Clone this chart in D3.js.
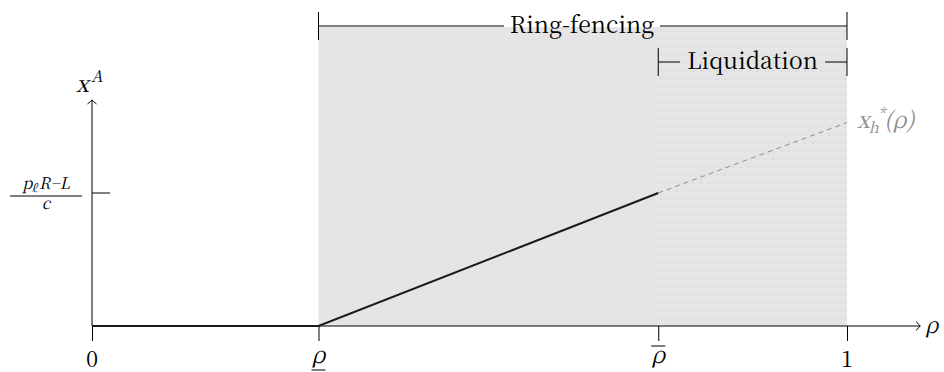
<!DOCTYPE html>
<html>
<head>
<meta charset="utf-8">
<script src="https://cdn.jsdelivr.net/npm/d3@7"></script>
<style>
    body { margin: 0; background: white; }
</style>
</head>
<body>
<div id="chart-area"></div>
<script>
var width = 944;
var height = 372;

// key points on the rho axis
var tickValues = [0, 0.3, 0.75, 1];
var tickNames = ["0", "rhoLow", "rhoHigh", "1"];
// x^A as a function of rho
var solidRho = [0, 0.3, 0.75];
var solidX = [0, 0, 1];
var dashedRho = [0.75, 1];
var dashedX = [1, 1.53];
var yTick = 1;
// shaded regions
var ringFencing = [0.3, 1];
var liquidation = [0.75, 1];
var axisMaxRho = 1.097;
var axisMaxX = 1.7;

var textFont = "'Noto Serif CJK SC', 'Liberation Serif', serif";

var x = d3.scaleLinear()
    .domain([0, 1])
    .range([92, 847]);

var y = d3.scaleLinear()
    .domain([0, 1])
    .range([326, 193]);

var svg = d3.select("#chart-area").append("svg")
    .attr("width", width)
    .attr("height", height)
    .attr("font-family", textFont);

// no italic serif face is installed, so slant upright glyphs by hand
function mathText(px, py, size, anchor) {
    return svg.append("g")
        .attr("transform", "translate(" + px + "," + py + ") skewX(-13)")
        .append("text")
        .attr("x", 0)
        .attr("y", 0)
        .attr("font-size", size)
        .attr("text-anchor", anchor || "start");
}

var defs = svg.append("defs");

var pattern = defs.append("pattern")
    .attr("id", "dots")
    .attr("patternUnits", "userSpaceOnUse")
    .attr("x", x(liquidation[0]))
    .attr("y", 27)
    .attr("width", 8)
    .attr("height", 8);
pattern.append("rect")
    .attr("width", 8)
    .attr("height", 8)
    .attr("fill", "#e5e5e5");
pattern.append("circle")
    .attr("cx", 3)
    .attr("cy", 4)
    .attr("r", 0.8)
    .attr("fill", "#cdcdcd");

var topY = 27;

// shading
svg.append("rect")
    .attr("x", x(ringFencing[0]))
    .attr("y", topY)
    .attr("width", x(ringFencing[1]) - x(ringFencing[0]))
    .attr("height", y(0) - topY)
    .attr("fill", "#e5e5e5");

svg.append("rect")
    .attr("x", x(liquidation[0]))
    .attr("y", topY)
    .attr("width", x(liquidation[1]) - x(liquidation[0]))
    .attr("height", y(0) - topY)
    .attr("fill", "url(#dots)");

// arrow marker
defs.append("marker")
    .attr("id", "arrow")
    .attr("viewBox", "-6 -6 12 12")
    .attr("refX", 0)
    .attr("refY", 0)
    .attr("markerWidth", 12)
    .attr("markerHeight", 12)
    .attr("markerUnits", "userSpaceOnUse")
    .attr("orient", "auto")
    .append("path")
    .attr("d", "M-4,-4.5 Q-1.5,-1 0,0 Q-1.5,1 -4,4.5")
    .attr("fill", "none")
    .attr("stroke", "black")
    .attr("stroke-width", 1);

// x axis with ticks
var xAxis = d3.axisBottom(x)
    .tickValues(tickValues)
    .tickSize(15)
    .tickSizeOuter(0)
    .tickFormat("");

var gx = svg.append("g")
    .attr("transform", "translate(0," + y(0) + ")")
    .call(xAxis);
gx.select(".domain").remove();
gx.selectAll("line").attr("stroke", "black").attr("stroke-width", 1);

svg.append("line")
    .attr("x1", x(0))
    .attr("x2", x(axisMaxRho))
    .attr("y1", y(0))
    .attr("y2", y(0))
    .attr("stroke", "black")
    .attr("stroke-width", 1)
    .attr("marker-end", "url(#arrow)");

// y axis
svg.append("line")
    .attr("x1", x(0))
    .attr("x2", x(0))
    .attr("y1", y(0))
    .attr("y2", y(axisMaxX))
    .attr("stroke", "black")
    .attr("stroke-width", 1)
    .attr("marker-end", "url(#arrow)");

svg.append("line")
    .attr("x1", x(0))
    .attr("x2", x(0) + 18)
    .attr("y1", y(yTick))
    .attr("y2", y(yTick))
    .attr("stroke", "black")
    .attr("stroke-width", 1);

// tick labels
var labelY = 367;
tickValues.forEach(function(v, i) {
    var name = tickNames[i];
    if (name === "rhoLow" || name === "rhoHigh") {
        mathText(x(v), labelY - 4, 23, "middle").text("ρ");
        var ly = name === "rhoLow" ? labelY + 3 : labelY - 21;
        svg.append("line")
            .attr("x1", x(v) - 7)
            .attr("x2", x(v) + 7)
            .attr("y1", ly)
            .attr("y2", ly)
            .attr("stroke", "black")
            .attr("stroke-width", 1);
    } else {
        svg.append("text")
            .attr("x", x(v))
            .attr("y", labelY)
            .attr("text-anchor", "middle")
            .attr("font-size", 22)
            .text(name);
    }
});

mathText(925, 333, 22).text("ρ");

// x^A label
var xa = mathText(76, 92, 23);
xa.append("tspan").text("x");
xa.append("tspan").attr("dy", -10).attr("font-size", 16).text("A");

// fraction label
var num = mathText(46, 189, 16, "middle");
num.append("tspan").text("p");
num.append("tspan").attr("dy", 3).attr("font-size", 11).text("ℓ");
num.append("tspan").attr("dy", -3).attr("dx", 1).text("R");
num.append("tspan").text("−");
num.append("tspan").text("L");

svg.append("line")
    .attr("x1", 10)
    .attr("x2", 82)
    .attr("y1", 196)
    .attr("y2", 196)
    .attr("stroke", "black")
    .attr("stroke-width", 1);

mathText(46, 209, 16, "middle").text("c");

// the lines
var line = d3.line()
    .x(function(d) { return x(d[0]); })
    .y(function(d) { return y(d[1]); });

svg.append("path")
    .datum(dashedRho.map(function(r, i) { return [r, dashedX[i]]; }))
    .attr("d", line)
    .attr("fill", "none")
    .attr("stroke", "#8c8c8c")
    .attr("stroke-width", 1)
    .attr("stroke-dasharray", "5,4");

svg.append("path")
    .datum(solidRho.map(function(r, i) { return [r, solidX[i]]; }))
    .attr("d", line)
    .attr("fill", "none")
    .attr("stroke", "#1a1a1a")
    .attr("stroke-width", 2);

// x_h^*(rho) label
var xh = mathText(857, 128, 23).attr("fill", "#8c8c8c");
xh.append("tspan").text("x");
xh.append("tspan").attr("font-size", 15).attr("dy", 5).text("h");
xh.append("tspan").attr("font-size", 15).attr("dx", -4).attr("dy", -14).text("*");
xh.append("tspan").attr("dy", 9).attr("dx", 1).text("(ρ)");

// brackets
function bracket(x0, x1, yy, label, gapLeft, gapRight) {
    var g = svg.append("g");
    g.append("line")
        .attr("x1", x0).attr("x2", gapLeft)
        .attr("y1", yy).attr("y2", yy);
    g.append("line")
        .attr("x1", gapRight).attr("x2", x1)
        .attr("y1", yy).attr("y2", yy);
    g.append("line")
        .attr("x1", x0).attr("x2", x0)
        .attr("y1", yy - 14).attr("y2", yy + 14);
    g.append("line")
        .attr("x1", x1).attr("x2", x1)
        .attr("y1", yy - 14).attr("y2", yy + 14);
    g.selectAll("line")
        .attr("stroke", "black")
        .attr("stroke-width", 1);
    g.append("text")
        .attr("x", (gapLeft + gapRight) / 2)
        .attr("y", yy + 7)
        .attr("text-anchor", "middle")
        .attr("font-size", 23)
        .text(label);
}

bracket(x(ringFencing[0]), x(ringFencing[1]), 26, "Ring-fencing", 504, 660);
bracket(x(liquidation[0]), x(liquidation[1]), 62, "Liquidation", 680, 825);
</script>
</body>
</html>
